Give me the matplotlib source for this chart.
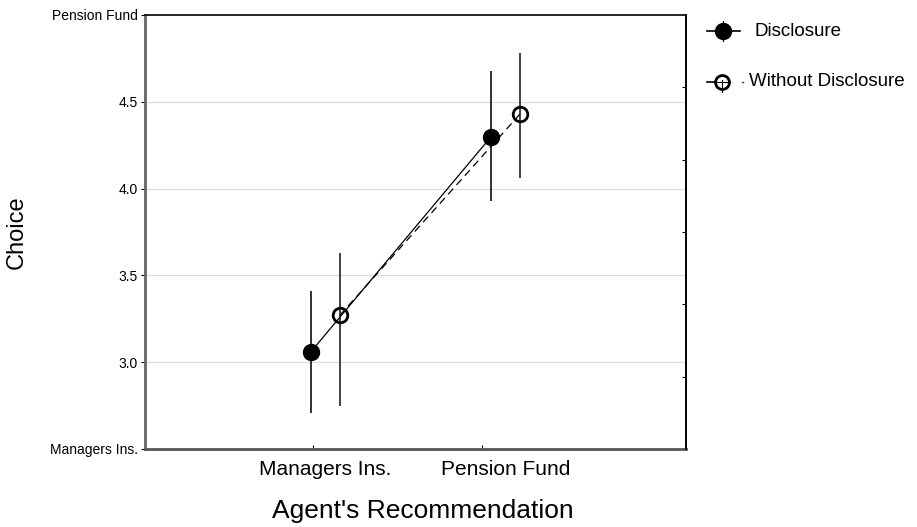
import matplotlib
matplotlib.use("Agg")
import matplotlib.pyplot as plt
from matplotlib.lines import Line2D
import numpy as np

plt.rcParams['font.family'] = ['Liberation Sans', 'DejaVu Sans']

categories = ["Managers Ins.", "Pension Fund"]
series = ["Disclosure", "Without Disclosure"]
disc_mean = [3.06, 4.30]
disc_low = [2.71, 3.93]
disc_high = [3.41, 4.68]
wo_mean = [3.27, 4.43]
wo_low = [2.75, 4.06]
wo_high = [3.63, 4.78]
ytick_vals = [2.5, 3.0, 3.5, 4.0, 4.5, 5.0]
ytick_labels = ["Managers Ins.", "3.0", "3.5", "4.0", "4.5", "Pension Fund"]

W, H = 917, 527
fig = plt.figure(figsize=(W/100, H/100), dpi=100)
ax = fig.add_axes([145/W, 1-449/H, (686-145)/W, (449-15)/H])

xc = np.arange(1, len(categories)+1)
off = 0.08
xd = xc - off
xw = xc + off

# grid
for v in ytick_vals[1:-1]:
    ax.axhline(v, color='#dcdcdc', lw=0.9, zorder=0)

# error bars
ax.vlines(xd, disc_low, disc_high, color='#222222', lw=1.3, zorder=2)
ax.vlines(xw, wo_low, wo_high, color='#333333', lw=1.3, zorder=2)

ax.plot(xd, disc_mean, color='black', lw=0.9, zorder=3)
ax.plot(xw, wo_mean, color='black', lw=0.9, ls=(0, (6, 4)), zorder=3)
ax.plot(xd, disc_mean, 'o', ms=11.5, mfc='black', mec='black', zorder=4)
ax.plot(xw, wo_mean, 'o', ms=10.5, mfc='none', mec='black', mew=2, zorder=4)

ax.set_xlim(0, 3)
ax.set_ylim(2.5, 5.0)
ax.set_xticks(xc)
ax.set_xticklabels(categories, fontsize=15)
ax.tick_params(axis='x', which='major', length=0, pad=8)
ax.set_xticks([0.932, 1.869], minor=True)
ax.tick_params(axis='x', which='minor', direction='in', length=3, width=0.8)
ax.set_yticks(ytick_vals)
ax.set_yticklabels(ytick_labels, fontsize=10)
ax.tick_params(axis='y', direction='out', length=3, width=0.8, colors='black', pad=2)

# right-side inward ticks
ax2 = ax.twinx()
ax2.set_ylim(0, 6)
ax2.set_yticks(np.arange(1, 6))
ax2.set_yticklabels([])
ax2.tick_params(axis='y', direction='in', length=3, width=0.8)
for s in ['left', 'bottom', 'top']:
    ax2.spines[s].set_visible(False)
ax2.spines['right'].set_linewidth(1.2)

ax.spines['left'].set_color('#666666')
ax.spines['left'].set_linewidth(2)
ax.spines['bottom'].set_color('#555555')
ax.spines['bottom'].set_linewidth(2)
ax.spines['top'].set_linewidth(1.2)
ax.spines['right'].set_linewidth(1.2)

ax.set_xlabel("Agent's Recommendation", fontsize=19, va='center')
ax.xaxis.set_label_coords((422.5-145)/541, (449-511)/434)
ax.set_ylabel("Choice", fontsize=17, va='center')
ax.yaxis.set_label_coords((17-145)/541, 0.5)

# legend drawn in figure pixel coordinates
def fx(px):
    return px / W
def fy(py):
    return 1 - py / H

ly1, ly2 = 31, 82
fig.add_artist(Line2D([fx(707), fx(740)], [fy(ly1), fy(ly1)], color='black', lw=1.2))
fig.add_artist(Line2D([fx(723)], [fy(ly1)], marker='o', ms=11.5, mfc='black', mec='black'))
fig.add_artist(Line2D([fx(723), fx(723)], [fy(ly1-10), fy(ly1+10)], color='black', lw=0.8))
fig.text(fx(755), fy(ly1), series[0], fontsize=13.5, va='center', ha='left')

fig.add_artist(Line2D([fx(707), fx(716)], [fy(ly2), fy(ly2)], color='black', lw=1.2))
fig.add_artist(Line2D([fx(741.5), fx(743)], [fy(ly2), fy(ly2)], color='#444444', lw=1.0))
fig.add_artist(Line2D([fx(722)], [fy(ly2)], marker='o', ms=10, mfc='none', mec='black', mew=2))
fig.add_artist(Line2D([fx(716), fx(728)], [fy(ly2), fy(ly2)], color='black', lw=0.8))
fig.add_artist(Line2D([fx(722), fx(722)], [fy(ly2-2), fy(ly2+10)], color='black', lw=0.8))
fig.text(fx(749), fy(ly2), series[1], fontsize=13.5, va='center', ha='left')

fig.savefig("out.png", dpi=100)
